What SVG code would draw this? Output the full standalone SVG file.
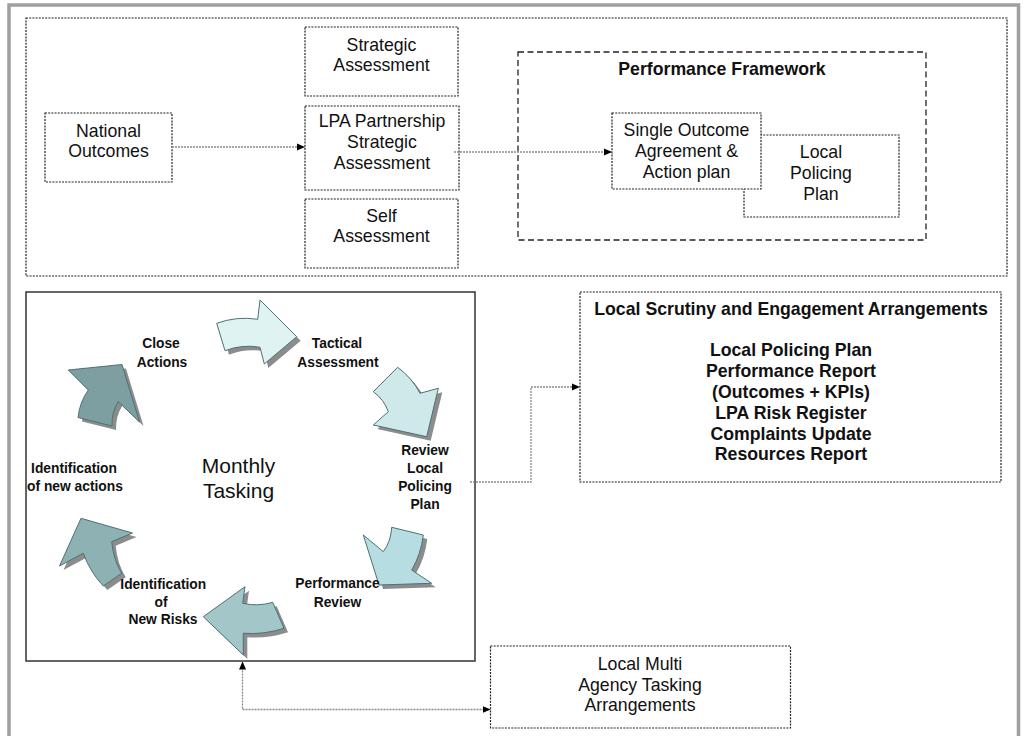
<svg xmlns="http://www.w3.org/2000/svg" width="1026" height="736" viewBox="0 0 1026 736">
<defs>
<style>
.t{font-family:"Liberation Sans",Arial,sans-serif;font-size:17.7px;fill:#111;text-anchor:middle}
.b{font-weight:bold}
.s{font-family:"Liberation Sans",Arial,sans-serif;font-size:13.8px;font-weight:bold;fill:#111;text-anchor:middle}
.dot{fill:#fff;stroke:#222;stroke-width:1.2;stroke-dasharray:2 1.2}
.dash{fill:none;stroke:#222;stroke-width:1.3;stroke-dasharray:6 3.5}
.con{fill:none;stroke:#8a8a8a;stroke-width:1.3;stroke-dasharray:2 1}
.sh{fill:#8c8c8c}
.ar{stroke:#4d7175;stroke-width:1;stroke-linejoin:miter}
</style>
<marker id="ah" markerWidth="9" markerHeight="8" refX="8" refY="4" orient="auto" markerUnits="userSpaceOnUse">
<path d="M0,0.5 L8,4 L0,7.5 z" fill="#000"/>
</marker>
<marker id="ahs" markerWidth="9" markerHeight="8" refX="8" refY="4" orient="auto-start-reverse" markerUnits="userSpaceOnUse">
<path d="M0,0.5 L8,4 L0,7.5 z" fill="#000"/>
</marker>
<path id="a1" d="M216.7,323.3 Q237,316 257.7,319.3 L260,300 L296.7,336.7 L264.3,364 L260,347.3 Q242.5,344 225,350.7 Z"/>
<path id="a2" d="M397.7,367.3 Q412.3,378.2 420,393.3 L438.3,388.3 L426.7,436.7 L373.3,425 L388.3,411.7 Q384.2,399.7 373.3,391.7 Z"/>
<path id="a3" d="M363.3,535 L383.3,551.7 Q391.1,541.1 391.7,527.3 L423.3,535 Q421.1,554.1 411.7,570 L431.7,583.3 L379,585 Z"/>
<path id="a4" d="M203.3,616.7 L245,586.7 L242.7,603.3 Q258,606.8 272.7,602.3 L284,628.3 Q264,634.8 243.3,633.3 L243.3,655 Z"/>
<path id="a5" d="M81,518.3 L132.5,533 L111.7,541.7 Q113.3,559.5 121.7,573.3 L103.3,586 Q89.9,571.7 83.3,553.3 L59.5,566 Z"/>
<path id="a6" d="M68.3,370 L122,364.5 L139.5,422 L118.3,401.7 Q111.6,412.2 112,426 L78,417.5 Q79.6,402.2 88.3,390 Z"/>
</defs>
<rect width="1026" height="736" fill="#fff"/>
<path d="M9,736 V5 H1018.5 V736" fill="none" stroke="#a0a0a0" stroke-width="3.5"/>

<g id="top-frame"><rect class="dot" x="26" y="18" width="981" height="258" fill="none"/></g>

<g id="performance-framework">
<rect class="dash" x="518" y="52" width="408" height="188"/>
<text class="t b" x="722" y="75">Performance Framework</text>
</g>

<g id="national-outcomes">
<rect class="dot" x="45" y="113" width="127" height="69"/>
<text class="t" x="108.5" y="136.5">National</text>
<text class="t" x="108.5" y="156.5">Outcomes</text>
</g>

<g id="strategic-assessment">
<rect class="dot" x="305" y="27" width="153" height="69"/>
<text class="t" x="381.5" y="51">Strategic</text>
<text class="t" x="381.5" y="70.5">Assessment</text>
</g>

<g id="lpa-assessment">
<rect class="dot" x="305" y="106" width="154" height="84"/>
<text class="t" x="382" y="127">LPA Partnership</text>
<text class="t" x="382" y="148">Strategic</text>
<text class="t" x="382" y="169">Assessment</text>
</g>

<g id="self-assessment">
<rect class="dot" x="305" y="199" width="153" height="69"/>
<text class="t" x="381.5" y="222">Self</text>
<text class="t" x="381.5" y="242">Assessment</text>
</g>

<g id="local-policing-plan">
<rect class="dot" x="744" y="135" width="155" height="82"/>
<text class="t" x="821" y="157.5">Local</text>
<text class="t" x="821" y="178.5">Policing</text>
<text class="t" x="821" y="199.5">Plan</text>
</g>

<g id="single-outcome">
<rect class="dot" x="612" y="113" width="149" height="76"/>
<text class="t" x="686.5" y="136">Single Outcome</text>
<text class="t" x="686.5" y="157">Agreement &amp;</text>
<text class="t" x="686.5" y="178">Action plan</text>
</g>

<g id="monthly-tasking">
<rect x="26" y="292" width="449" height="369" fill="#fff" stroke="#333" stroke-width="1.5"/>
<text class="t" x="238.5" y="472.5" style="font-size:21px">Monthly</text>
<text class="t" x="238.5" y="497.5" style="font-size:21px">Tasking</text>
</g>

<g id="cycle-arrows">
<use href="#a1" class="sh" transform="translate(4,4)"/>
<use href="#a1" class="ar" fill="#e0f3f3"/>
<use href="#a2" class="sh" transform="translate(4,4)"/>
<use href="#a2" class="ar" fill="#cfe9eb"/>
<use href="#a3" class="sh" transform="translate(4,4)"/>
<use href="#a3" class="ar" fill="#b5dde2"/>
<use href="#a4" class="sh" transform="translate(4,4)"/>
<use href="#a4" class="ar" fill="#a3c7c9"/>
<use href="#a5" class="sh" transform="translate(4,4)"/>
<use href="#a5" class="ar" fill="#8eb2b4"/>
<use href="#a6" class="sh" transform="translate(4,4)"/>
<use href="#a6" class="ar" fill="#7e9fa2"/>
</g>

<g id="cycle-labels">
<text class="s" x="161" y="348">Close</text>
<text class="s" x="162" y="366.5">Actions</text>
<text class="s" x="337" y="348">Tactical</text>
<text class="s" x="338" y="366.5">Assessment</text>
<text class="s" x="425" y="455">Review</text>
<text class="s" x="425" y="473">Local</text>
<text class="s" x="425" y="491">Policing</text>
<text class="s" x="425" y="509">Plan</text>
<text class="s" x="337.5" y="588">Performance</text>
<text class="s" x="337.5" y="606.5">Review</text>
<text class="s" x="163.3" y="589">Identification</text>
<text class="s" x="161" y="606.5">of</text>
<text class="s" x="163" y="624">New Risks</text>
<text class="s" x="74" y="472.5">Identification</text>
<text class="s" x="75" y="491">of new actions</text>
</g>

<g id="local-scrutiny">
<rect class="dot" x="580" y="292" width="421" height="190"/>
<text class="t b" x="791" y="315">Local Scrutiny and Engagement Arrangements</text>
<text class="t b" x="791" y="355.5">Local Policing Plan</text>
<text class="t b" x="791" y="376.5">Performance Report</text>
<text class="t b" x="791" y="397.5">(Outcomes + KPIs)</text>
<text class="t b" x="791" y="418.5">LPA Risk Register</text>
<text class="t b" x="791" y="439.5">Complaints Update</text>
<text class="t b" x="791" y="460">Resources Report</text>
</g>

<g id="local-multi-agency">
<rect class="dot" x="490.5" y="646" width="300" height="82"/>
<text class="t" x="640" y="669.5">Local Multi</text>
<text class="t" x="640" y="690.5">Agency Tasking</text>
<text class="t" x="640" y="711">Arrangements</text>
</g>

<g id="connectors">
<line class="con" x1="172" y1="147" x2="305" y2="147" marker-end="url(#ah)"/>
<line class="con" x1="454" y1="152" x2="612" y2="152" marker-end="url(#ah)"/>
<polyline class="con" points="470,482 531,482 531,387 580,387" marker-end="url(#ah)"/>
<polyline class="con" points="242.5,661.5 242.5,709.5 490.5,709.5" marker-start="url(#ahs)" marker-end="url(#ah)"/>
</g>
</svg>
